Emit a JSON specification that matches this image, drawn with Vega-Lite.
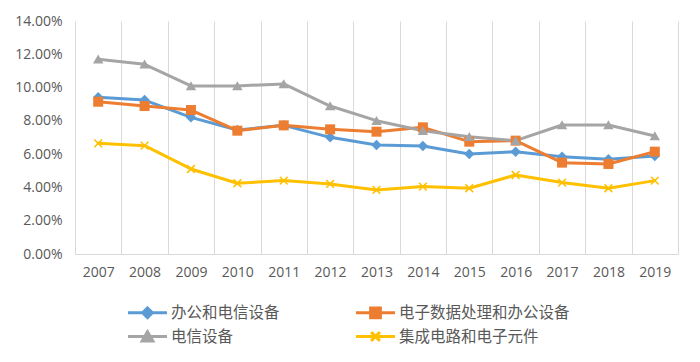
{
  "$schema": "https://vega.github.io/schema/vega-lite/v6.json",
  "width": 603,
  "height": 233,
  "autosize": {"type": "none"},
  "padding": {"left": 75, "top": 21, "right": 22, "bottom": 108},
  "background": "white",
  "config": {
    "view": {"stroke": null},
    "font": "Open Sans"
  },
  "data": {
    "values": [
      {"year": "2007", "series": "办公和电信设备", "value": 0.0942},
      {"year": "2008", "series": "办公和电信设备", "value": 0.0925},
      {"year": "2009", "series": "办公和电信设备", "value": 0.0821},
      {"year": "2010", "series": "办公和电信设备", "value": 0.0745},
      {"year": "2011", "series": "办公和电信设备", "value": 0.0773},
      {"year": "2012", "series": "办公和电信设备", "value": 0.0701},
      {"year": "2013", "series": "办公和电信设备", "value": 0.0655},
      {"year": "2014", "series": "办公和电信设备", "value": 0.0649},
      {"year": "2015", "series": "办公和电信设备", "value": 0.0601},
      {"year": "2016", "series": "办公和电信设备", "value": 0.0615},
      {"year": "2017", "series": "办公和电信设备", "value": 0.0585},
      {"year": "2018", "series": "办公和电信设备", "value": 0.0569},
      {"year": "2019", "series": "办公和电信设备", "value": 0.0589},
      {"year": "2007", "series": "电子数据处理和办公设备", "value": 0.0915},
      {"year": "2008", "series": "电子数据处理和办公设备", "value": 0.0889},
      {"year": "2009", "series": "电子数据处理和办公设备", "value": 0.0865},
      {"year": "2010", "series": "电子数据处理和办公设备", "value": 0.0741},
      {"year": "2011", "series": "电子数据处理和办公设备", "value": 0.0773},
      {"year": "2012", "series": "电子数据处理和办公设备", "value": 0.0749},
      {"year": "2013", "series": "电子数据处理和办公设备", "value": 0.0735},
      {"year": "2014", "series": "电子数据处理和办公设备", "value": 0.0761},
      {"year": "2015", "series": "电子数据处理和办公设备", "value": 0.0675},
      {"year": "2016", "series": "电子数据处理和办公设备", "value": 0.0681},
      {"year": "2017", "series": "电子数据处理和办公设备", "value": 0.0549},
      {"year": "2018", "series": "电子数据处理和办公设备", "value": 0.0541},
      {"year": "2019", "series": "电子数据处理和办公设备", "value": 0.0615},
      {"year": "2007", "series": "电信设备", "value": 0.1170},
      {"year": "2008", "series": "电信设备", "value": 0.1140},
      {"year": "2009", "series": "电信设备", "value": 0.1010},
      {"year": "2010", "series": "电信设备", "value": 0.1010},
      {"year": "2011", "series": "电信设备", "value": 0.1022},
      {"year": "2012", "series": "电信设备", "value": 0.0889},
      {"year": "2013", "series": "电信设备", "value": 0.0801},
      {"year": "2014", "series": "电信设备", "value": 0.0741},
      {"year": "2015", "series": "电信设备", "value": 0.0705},
      {"year": "2016", "series": "电信设备", "value": 0.0681},
      {"year": "2017", "series": "电信设备", "value": 0.0775},
      {"year": "2018", "series": "电信设备", "value": 0.0775},
      {"year": "2019", "series": "电信设备", "value": 0.0709},
      {"year": "2007", "series": "集成电路和电子元件", "value": 0.0665},
      {"year": "2008", "series": "集成电路和电子元件", "value": 0.0651},
      {"year": "2009", "series": "集成电路和电子元件", "value": 0.0511},
      {"year": "2010", "series": "集成电路和电子元件", "value": 0.0425},
      {"year": "2011", "series": "集成电路和电子元件", "value": 0.0441},
      {"year": "2012", "series": "集成电路和电子元件", "value": 0.0421},
      {"year": "2013", "series": "集成电路和电子元件", "value": 0.0385},
      {"year": "2014", "series": "集成电路和电子元件", "value": 0.0405},
      {"year": "2015", "series": "集成电路和电子元件", "value": 0.0395},
      {"year": "2016", "series": "集成电路和电子元件", "value": 0.0475},
      {"year": "2017", "series": "集成电路和电子元件", "value": 0.0429},
      {"year": "2018", "series": "集成电路和电子元件", "value": 0.0395},
      {"year": "2019", "series": "集成电路和电子元件", "value": 0.0441}
    ]
  },
  "encoding": {
    "x": {
      "field": "year",
      "type": "ordinal",
      "scale": {"type": "band", "paddingInner": 0, "paddingOuter": 0},
      "axis": {
        "title": null,
        "labelAngle": 0,
        "tickBand": "extent",
        "grid": true,
        "gridColor": "#d9d9d9",
        "gridWidth": 1,
        "ticks": false,
        "domain": true,
        "domainColor": "#d9d9d9",
        "domainWidth": 1,
        "labelPadding": 11,
        "labelFont": "Open Sans",
        "labelFontSize": 14,
        "labelColor": "#595959"
      }
    },
    "y": {
      "field": "value",
      "type": "quantitative",
      "scale": {"domain": [0, 0.14], "nice": false, "zero": true},
      "axis": {
        "title": null,
        "values": [0, 0.02, 0.04, 0.06, 0.08, 0.1, 0.12, 0.14],
        "format": ".2%",
        "grid": false,
        "domain": false,
        "ticks": false,
        "labelPadding": 13,
        "labelFont": "Open Sans",
        "labelFontSize": 14,
        "labelColor": "#595959"
      }
    }
  },
  "layer": [
    {
      "mark": {"type": "line", "strokeWidth": 3, "strokeJoin": "round", "strokeCap": "round"},
      "encoding": {
        "color": {
          "field": "series",
          "type": "nominal",
          "scale": {
            "domain": ["办公和电信设备", "电子数据处理和办公设备", "电信设备", "集成电路和电子元件"],
            "range": ["#5B9BD5", "#ED7D31", "#A5A5A5", "#FFC000"]
          },
          "legend": {
            "title": null,
            "orient": "none",
            "legendX": 61,
            "legendY": 280,
            "direction": "horizontal",
            "columns": 2,
            "columnPadding": 70,
            "rowPadding": 1,
            "padding": 0,
            "symbolSize": 380,
            "labelOffset": 12,
            "labelFont": "Noto Sans CJK SC",
            "labelFontSize": 15.5,
            "labelColor": "#595959",
            "labelLimit": 400,
            "encode": {
              "symbols": {
                "update": {
                  "shape": {"signal": "datum.value === '办公和电信设备' ? 'M-2,0H2M0,-0.5L0.5,0L0,0.5L-0.5,0Z' : datum.value === '电子数据处理和办公设备' ? 'M-2,0H2M-0.5,-0.5H0.5V0.5H-0.5Z' : datum.value === '电信设备' ? 'M-2,0H2M0,-0.5L0.55,0.45H-0.55Z' : 'M-2,0H2M-0.45,-0.45L0.45,0.45M-0.45,0.45L0.45,-0.45'"},
                  "fill": {"signal": "scale('color', datum.value)"},
                  "stroke": {"signal": "scale('color', datum.value)"},
                  "strokeWidth": {"value": 3},
                  "opacity": {"value": 1}
                }
              }
            }
          }
        }
      }
    },
    {
      "transform": [{"filter": "datum.series === '办公和电信设备'"}],
      "mark": {"type": "point", "shape": "diamond", "filled": true, "opacity": 1, "color": "#5B9BD5", "size": 110}
    },
    {
      "transform": [{"filter": "datum.series === '电子数据处理和办公设备'"}],
      "mark": {"type": "point", "shape": "square", "filled": true, "opacity": 1, "color": "#ED7D31", "size": 100}
    },
    {
      "transform": [{"filter": "datum.series === '电信设备'"}],
      "mark": {"type": "point", "shape": "M0,-1L1.1,0.9H-1.1Z", "filled": true, "opacity": 1, "color": "#A5A5A5", "size": 90}
    },
    {
      "transform": [{"filter": "datum.series === '集成电路和电子元件'"}],
      "mark": {"type": "point", "shape": "M-1,-1L1,1M-1,1L1,-1", "filled": false, "opacity": 1, "color": "#FFC000", "strokeWidth": 1.6, "size": 60}
    }
  ]
}
